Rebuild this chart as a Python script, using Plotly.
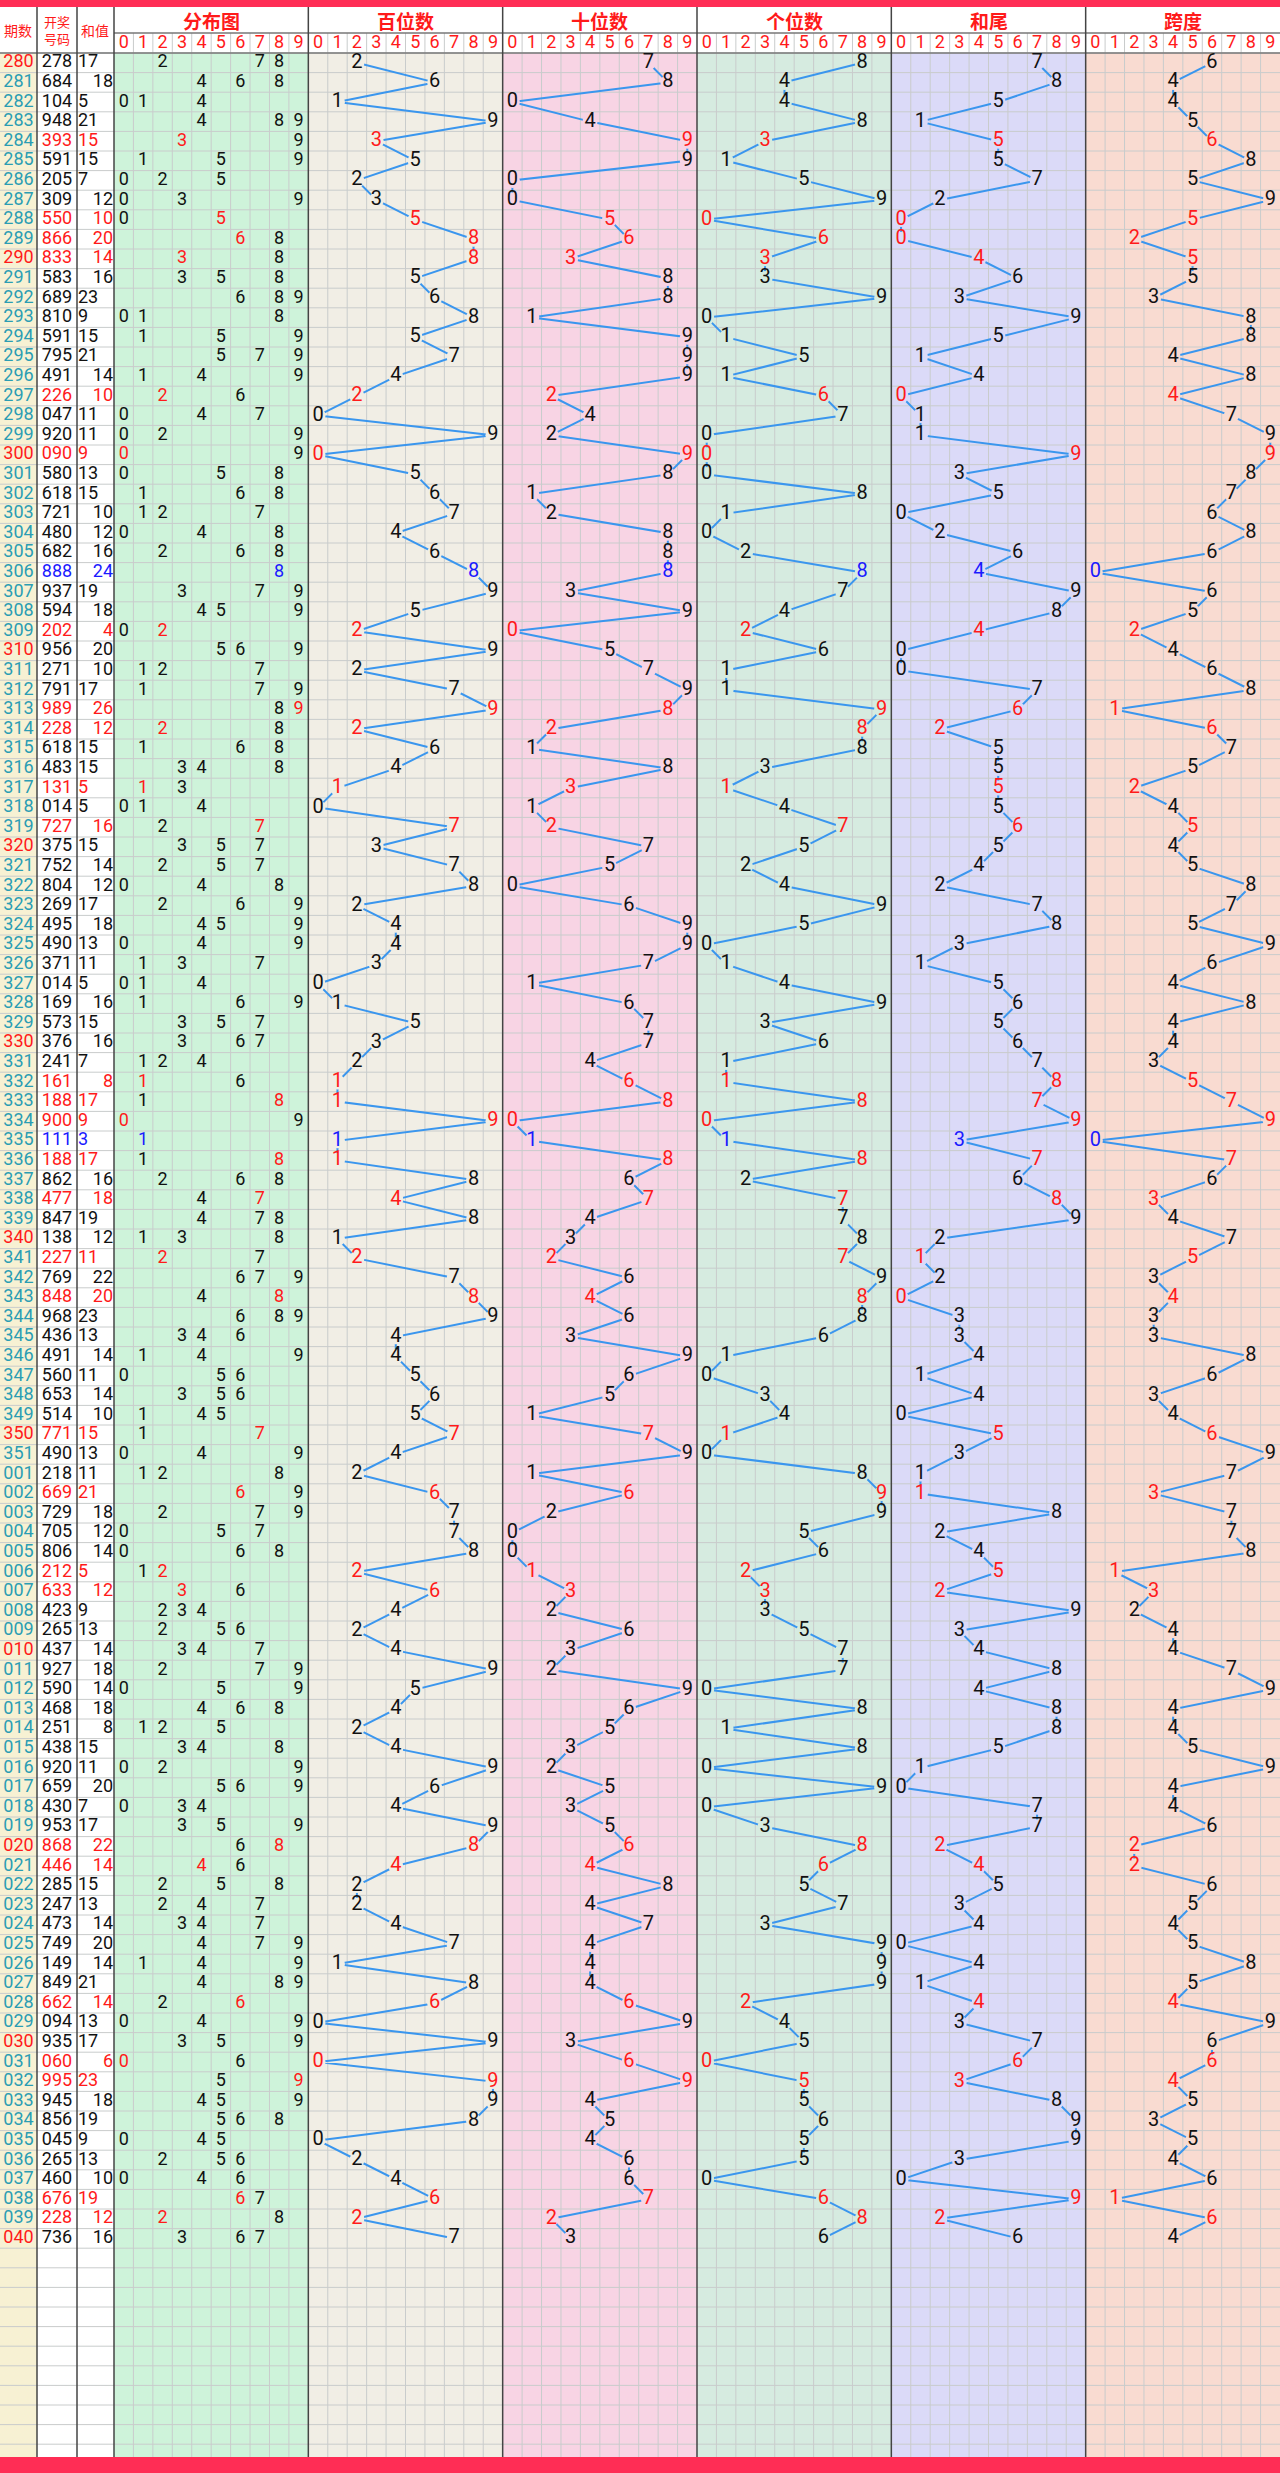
import plotly.graph_objects as go

# ---- data -------------------------------------------------------------
PERIODS = [str(p) for p in range(280, 352)] + [f"{p:03d}" for p in range(1, 41)]
DRAWS = [
    "278", "684", "104", "948", "393", "591", "205", "309", "550", "866",
    "833", "583", "689", "810", "591", "795", "491", "226", "047", "920",
    "090", "580", "618", "721", "480", "682", "888", "937", "594", "202",
    "956", "271", "791", "989", "228", "618", "483", "131", "014", "727",
    "375", "752", "804", "269", "495", "490", "371", "014", "169", "573",
    "376", "241", "161", "188", "900", "111", "188", "862", "477", "847",
    "138", "227", "769", "848", "968", "436", "491", "560", "653", "514",
    "771", "490", "218", "669", "729", "705", "806", "212", "633", "423",
    "265", "437", "927", "590", "468", "251", "438", "920", "659", "430",
    "953", "868", "446", "285", "247", "473", "749", "149", "849", "662",
    "094", "935", "060", "995", "945", "856", "045", "265", "460", "676",
    "228", "736",
]
SECTIONS = ["分布图", "百位数", "十位数", "个位数", "和尾", "跨度"]
DIGIT_LABELS = [str(d) for d in range(10)]

# ---- layout constants (pixels) ---------------------------------------
W, H = 1280, 2473
TOP = 53          # first data row top
RH = 19.6         # row height
GRID_END = 2457
COL_EDGES = [0, 37, 77, 114]
SEC_X0 = 114
SEC_W = (W - SEC_X0) / 6
CW = SEC_W / 10
SEC_BG = ["#cef3da", "#f1eee5", "#f8d4e4", "#d6ebe0", "#dbdaf8", "#f9dbd1"]
RED = "#ff1a1a"
BLUE = "#1a1aff"
TEAL = "#2b9db3"
LINE = "#3a96ee"
FONT = "Liberation Sans Narrow, Roboto, Arial, sans-serif"
CJK = "Noto Sans CJK SC, sans-serif"

digits = [[int(c) for c in d] for d in DRAWS]
sums = [sum(d) for d in digits]
spans = [max(d) - min(d) for d in digits]
n = len(DRAWS)


def row_y(i):
    return TOP + RH * i + RH / 2


def cell_x(sec, d):
    return SEC_X0 + sec * SEC_W + d * CW + CW / 2


def kind(d):
    s = len(set(d))
    return "leo" if s == 1 else ("pair" if s == 2 else "plain")


def kcolor(d):
    return {"leo": BLUE, "pair": RED, "plain": "#111"}[kind(d)]


fig = go.Figure()
shapes = []

# backgrounds
shapes.append(dict(type="rect", x0=0, x1=W, y0=0, y1=H, fillcolor="white", line_width=0, layer="below"))
shapes.append(dict(type="rect", x0=0, x1=COL_EDGES[1], y0=TOP, y1=GRID_END, fillcolor="#f7f1d3", line_width=0, layer="below"))
for s, c in enumerate(SEC_BG):
    shapes.append(dict(type="rect", x0=SEC_X0 + s * SEC_W, x1=SEC_X0 + (s + 1) * SEC_W,
                       y0=TOP, y1=GRID_END, fillcolor=c, line_width=0, layer="below"))
shapes.append(dict(type="rect", x0=0, x1=W, y0=0, y1=7, fillcolor="#ff2d55", line_width=0))
shapes.append(dict(type="rect", x0=0, x1=W, y0=GRID_END, y1=H, fillcolor="#ff2d55", line_width=0))

# grid lines (one trace)
gx, gy = [], []
y = TOP
while y <= GRID_END:
    gx += [0, W, None]
    gy += [y, y, None]
    y += RH
for s in range(6):
    for d in range(1, 10):
        x = SEC_X0 + s * SEC_W + d * CW
        gx += [x, x, None]
        gy += [33, GRID_END, None]
fig.add_trace(go.Scatter(x=gx, y=gy, mode="lines", line=dict(color="#c9cccc", width=1),
                         hoverinfo="skip", showlegend=False))
# header boxes for digit row
hx, hy = [], []
hx += [SEC_X0, W, None, 0, W, None]
hy += [33, 33, None, TOP, TOP, None]
fig.add_trace(go.Scatter(x=hx, y=hy, mode="lines", line=dict(color="#777", width=1.5),
                         hoverinfo="skip", showlegend=False))
# dark separators
sx, sy = [], []
for x in COL_EDGES[1:]:
    sx += [x, x, None]
    sy += [7, GRID_END, None]
for s in range(1, 6):
    x = SEC_X0 + s * SEC_W
    sx += [x, x, None]
    sy += [7, GRID_END, None]
fig.add_trace(go.Scatter(x=sx, y=sy, mode="lines", line=dict(color="#444", width=1.5),
                         hoverinfo="skip", showlegend=False))

# header texts
ann = []
for x, t in [(18, "期数"), (57, "开奖<br>号码"), (95, "和值")]:
    ann.append(dict(x=x, y=30, text=t, showarrow=False,
                    font=dict(family=CJK, size=13 if "<br>" in t else 14, color=RED)))
for s, name in enumerate(SECTIONS):
    ann.append(dict(x=SEC_X0 + s * SEC_W + SEC_W / 2, y=20, text=f"<b>{name}</b>", showarrow=False,
                    font=dict(family=CJK, size=19, color=RED)))
hdx = [cell_x(s, d) for s in range(6) for d in range(10)]
hdt = [DIGIT_LABELS[d] for s in range(6) for d in range(10)]
fig.add_trace(go.Scatter(x=hdx, y=[43.5] * len(hdx), mode="text", text=hdt,
                         textfont=dict(family=FONT, size=18, color=RED),
                         hoverinfo="skip", showlegend=False))

ys = [row_y(i) for i in range(n)]

# left columns
fig.add_trace(go.Scatter(x=[18.5] * n, y=ys, mode="text", text=PERIODS,
                         textfont=dict(family=FONT, size=18,
                                       color=[RED if p.endswith("0") else TEAL for p in PERIODS]),
                         hoverinfo="skip", showlegend=False))
fig.add_trace(go.Scatter(x=[57] * n, y=ys, mode="text", text=DRAWS,
                         textfont=dict(family=FONT, size=18, color=[kcolor(d) for d in digits]),
                         hoverinfo="skip", showlegend=False))
for parity, xpos, tp in [(1, 78, "middle right"), (0, 113, "middle left")]:
    idx = [i for i in range(n) if sums[i] % 2 == parity]
    fig.add_trace(go.Scatter(x=[xpos] * len(idx), y=[ys[i] for i in idx], mode="text",
                             text=[str(sums[i]) for i in idx], textposition=tp,
                             textfont=dict(family=FONT, size=18, color=[kcolor(digits[i]) for i in idx]),
                             hoverinfo="skip", showlegend=False))

# distribution section
dx, dy, dt, dc = [], [], [], []
for i, d in enumerate(digits):
    k = kind(d)
    for v in sorted(set(d)):
        dx.append(cell_x(0, v))
        dy.append(ys[i])
        dt.append(str(v))
        if k == "leo":
            dc.append(BLUE)
        elif k == "pair" and d.count(v) == 2:
            dc.append(RED)
        else:
            dc.append("#111")
fig.add_trace(go.Scatter(x=dx, y=dy, mode="text", text=dt,
                         textfont=dict(family=FONT, size=18, color=dc),
                         hoverinfo="skip", showlegend=False))

# trend sections
series = [
    [d[0] for d in digits],
    [d[1] for d in digits],
    [d[2] for d in digits],
    [s % 10 for s in sums],
    spans,
]
for k, vals in enumerate(series):
    sec = k + 1
    xs = [cell_x(sec, v) for v in vals]
    fig.add_trace(go.Scatter(x=xs, y=ys, mode="lines", line=dict(color=LINE, width=2),
                             hoverinfo="skip", showlegend=False))
    fig.add_trace(go.Scatter(x=xs, y=ys, mode="markers+text", text=[str(v) for v in vals],
                             marker=dict(size=15, color=SEC_BG[sec], symbol="circle"),
                             textfont=dict(family=FONT, size=20, color=[kcolor(d) for d in digits]),
                             hoverinfo="skip", showlegend=False))

fig.update_layout(
    width=W, height=H, margin=dict(l=0, r=0, t=0, b=0),
    paper_bgcolor="white", plot_bgcolor="white",
    shapes=shapes, annotations=ann,
    xaxis=dict(range=[0, W], visible=False, fixedrange=True),
    yaxis=dict(range=[H, 0], visible=False, fixedrange=True),
)
fig.write_html("out.html", config={"displayModeBar": False},
               post_script="document.body.style.margin='0px';")
